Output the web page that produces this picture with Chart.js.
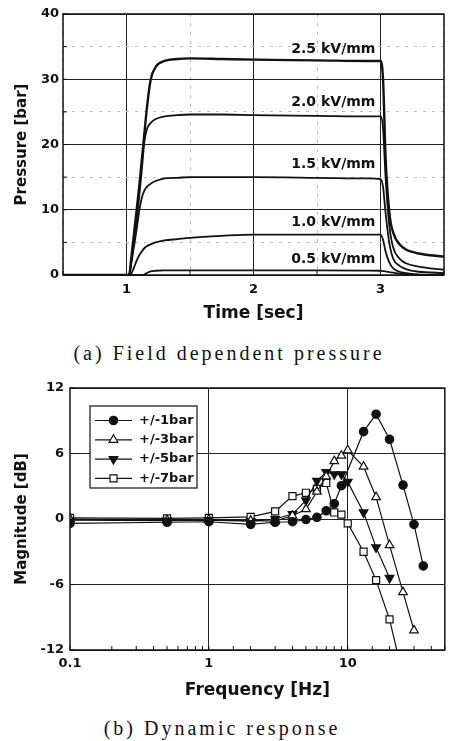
<!DOCTYPE html>
<html>
<head>
<meta charset="utf-8">
<script src="https://cdn.jsdelivr.net/npm/chart.js@4.4.0/dist/chart.umd.min.js"></script>
<style>
  body { margin: 0; background: #fff; width: 451px; height: 741px; overflow: hidden; position: relative; }
  .box { position: absolute; left: 0; width: 451px; }
  #topBox { top: 0; height: 340px; }
  #botBox { top: 360px; height: 345px; }
  .cap { position: absolute; font-family: "Liberation Serif", serif; font-size: 20px; line-height: 20px;
         letter-spacing: 3px; white-space: nowrap; color: #111; transform: translateX(-50%); }
</style>
</head>
<body>
<div class="box" id="topBox"><canvas id="pressureChart"></canvas></div>
<div class="cap" style="left:229px; top:343px;">(a) Field dependent pressure</div>
<div class="box" id="botBox"><canvas id="responseChart"></canvas></div>
<div class="cap" style="left:222px; top:718px;">(b) Dynamic response</div>

<script>
// ---- (a) pressure vs time ----
const timeSec = [0.5, 1.0, 1.02, 1.04, 1.06, 1.08, 1.10, 1.12, 1.14, 1.16, 1.19, 1.23, 1.3, 1.4,
                 1.5, 1.75, 2.0, 2.5, 2.9, 3.0, 3.02, 3.04, 3.07, 3.1, 3.15, 3.2, 3.3, 3.5];
const p05 = [0, 0, 0, 0, 0, 0, 0, 0, 0.05, 0.3, 0.55, 0.65, 0.7, 0.7,
             0.7, 0.7, 0.7, 0.7, 0.68, 0.65, 0.6, 0.55, 0.45, 0.35, 0.2, 0.1, 0, 0];
const p10 = [0, 0, 0, 0.3, 1.2, 2.2, 3.0, 3.6, 4.1, 4.4, 4.7, 5.0, 5.3, 5.5,
             5.7, 6.0, 6.2, 6.2, 6.2, 6.2, 5.4, 3.6, 1.9, 1.0, 0.5, 0.3, 0.1, 0];
const p15 = [0, 0, 0, 2, 4.5, 7, 9.8, 11.8, 12.9, 13.5, 14, 14.4, 14.8, 14.9,
             15, 15, 15, 14.9, 14.8, 14.7, 13.5, 9.5, 4.8, 2.5, 1.4, 0.9, 0.5, 0.3];
const p20 = [0, 0, 0, 2.5, 5.5, 8.5, 12, 16, 20.3, 22.3, 23.3, 23.9, 24.3, 24.5,
             24.6, 24.6, 24.5, 24.4, 24.3, 24.3, 22.5, 15, 7.5, 4.2, 2.5, 1.8, 1.3, 0.8];
const p25 = [0, 0, 0, 3, 6.5, 10, 13.5, 17.5, 21.5, 25.5, 29.9, 31.9, 32.8, 33.1,
             33.2, 33.1, 33.0, 32.9, 32.8, 32.8, 30, 18, 9.5, 6.5, 4.7, 3.9, 3.3, 2.8];
const fieldLabels = ['0.5 kV/mm', '1.0 kV/mm', '1.5 kV/mm', '2.0 kV/mm', '2.5 kV/mm'];
const labelLevel = [2.4, 8.0, 16.9, 26.5, 34.6];
const labelTime = 2.96;

// ---- (b) dynamic response ----
const f1 = [0.1, 0.5, 1, 2, 3, 4, 5, 6, 7, 8, 9, 13, 16, 20, 25, 30, 35];
const m1 = [-0.4, -0.3, -0.25, -0.5, -0.3, -0.25, -0.05, 0.15, 0.75, 1.4, 3.05, 8.0, 9.6, 7.3, 3.1, -0.5, -4.3];
const f3 = [0.1, 0.5, 1, 2, 3, 4, 5, 6, 7, 8, 9, 10, 13, 16, 20, 25, 30];
const m3 = [0, -0.1, -0.05, -0.15, -0.2, 0.3, 0.9, 2.5, 3.9, 5.3, 5.8, 6.3, 4.8, 2.0, -2.4, -6.7, -10.2];
const f5 = [0.1, 0.5, 1, 2, 3, 4, 5, 6, 7, 8, 9, 10, 13, 16, 20];
const m5 = [-0.1, -0.15, -0.1, -0.2, 0, 0.45, 1.7, 3.5, 4.3, 4.1, 4.1, 3.4, 0.6, -2.6, -5.4];
const f7 = [0.1, 0.5, 1, 2, 3, 4, 5, 6, 7, 8, 9, 10, 13, 16, 20, 25];
const m7 = [0.1, 0.05, 0.1, 0.2, 0.7, 2.1, 2.4, 2.75, 3.3, 0.6, 0.4, -0.4, -3.0, -5.6, -9.2, -14.4];
const ampLabels = ['+/-1bar', '+/-3bar', '+/-5bar', '+/-7bar'];

const ink = '#111';
const boldFont = (size) => ({ family: '"DejaVu Sans", sans-serif', weight: 'bold', size: size });
const zip = (xs, ys) => xs.map((x, i) => ({ x: x, y: ys[i] }));

// frame round the plot + short inward ticks
const framePlugin = {
  id: 'frame',
  afterDatasetsDraw(chart) {
    const { ctx, chartArea: a, scales } = chart;
    ctx.save();
    ctx.strokeStyle = ink;
    ctx.lineWidth = 1;
    ctx.beginPath();
    scales.x.ticks.forEach(t => {
      const px = scales.x.getPixelForValue(t.value);
      ctx.moveTo(px, a.bottom); ctx.lineTo(px, a.bottom - 4);
    });
    scales.y.ticks.forEach(t => {
      const py = scales.y.getPixelForValue(t.value);
      ctx.moveTo(a.left, py); ctx.lineTo(a.left + 4, py);
    });
    ctx.stroke();
    ctx.lineWidth = 1.5;
    ctx.strokeRect(a.left, a.top, a.right - a.left, a.bottom - a.top);
    ctx.restore();
  }
};

const fieldLabelPlugin = {
  id: 'fieldLabels',
  afterDatasetsDraw(chart) {
    const { ctx, scales: { x, y } } = chart;
    ctx.save();
    ctx.font = 'bold 14px "DejaVu Sans", sans-serif';
    ctx.fillStyle = ink;
    ctx.textAlign = 'right';
    ctx.textBaseline = 'middle';
    fieldLabels.forEach((txt, i) => ctx.fillText(txt, x.getPixelForValue(labelTime), y.getPixelForValue(labelLevel[i])));
    ctx.restore();
  }
};

const boxLegendPlugin = {
  id: 'boxLegend',
  afterDraw(chart) {
    const { ctx, chartArea: a } = chart;
    const left = a.left + 20, top = a.top + 18, w = 107, h = 82;
    ctx.save();
    ctx.fillStyle = '#fff';
    ctx.fillRect(left, top, w, h);
    ctx.strokeStyle = ink;
    ctx.lineWidth = 1.2;
    ctx.strokeRect(left, top, w, h);
    ctx.font = 'bold 13px "DejaVu Sans", sans-serif';
    ctx.textBaseline = 'middle';
    chart.data.datasets.forEach((ds, i) => {
      const yy = top + 14.5 + i * 19.3;
      ctx.strokeStyle = ink;
      ctx.lineWidth = 1.2;
      ctx.beginPath(); ctx.moveTo(left + 5, yy); ctx.lineTo(left + 42, yy); ctx.stroke();
      ctx.fillStyle = ds.pointBackgroundColor;
      Chart.helpers.drawPoint(ctx, { pointStyle: ds.pointStyle, radius: ds.pointRadius,
        rotation: ds.pointRotation || 0, borderWidth: 1.2 }, left + 23.5, yy);
      ctx.fillStyle = ink;
      ctx.fillText(ds.label, left + 49, yy);
    });
    ctx.restore();
  }
};

const pressureCtx = document.getElementById('pressureChart');
const pressureSeries = [p05, p10, p15, p20, p25];
new Chart(pressureCtx, {
  type: 'line',
  data: {
    datasets: pressureSeries.map((s, i) => ({
      label: fieldLabels[i],
      data: zip(timeSec, s),
      borderColor: ink,
      borderWidth: i === 4 ? 2.4 : 1.8,
      pointRadius: 0,
      cubicInterpolationMode: 'monotone',
      fill: false
    }))
  },
  options: {
    responsive: true,
    maintainAspectRatio: false,
    animation: false,
    layout: { padding: { top: 14, right: 1, left: 0, bottom: 0 } },
    plugins: { legend: { display: false }, tooltip: { enabled: false } },
    scales: {
      x: {
        type: 'linear', min: 0.5, max: 3.5,
        ticks: { stepSize: 0.5, autoSkip: false, maxRotation: 0, padding: 7, color: ink, font: boldFont(13),
                 callback: v => Number.isInteger(v) ? v : '' },
        grid: { drawTicks: false, color: c => Number.isInteger(c.tick && c.tick.value) ? '#222' : '#bdbdbd' },
        border: { display: false, dash: c => (c.tick && !Number.isInteger(c.tick.value)) ? [3, 6] : [] },
        title: { display: true, text: 'Time [sec]', color: ink, font: boldFont(17), padding: { top: 0, bottom: 16 } },
        afterFit: s => { s.height = 65; }
      },
      y: {
        min: 0, max: 40,
        ticks: { stepSize: 5, padding: 4, color: ink, font: boldFont(13),
                 callback: v => v % 10 === 0 ? v : '' },
        grid: { drawTicks: false, color: c => (c.tick && c.tick.value % 10 === 0) ? '#222' : '#bdbdbd' },
        border: { display: false, dash: c => (c.tick && c.tick.value % 10 !== 0) ? [3, 6] : [] },
        title: { display: true, text: 'Pressure [bar]', color: ink, font: boldFont(15), padding: { top: 13, bottom: 0 } },
        afterFit: s => { s.width = 63; }
      }
    }
  },
  plugins: [framePlugin, fieldLabelPlugin]
});

const responseCtx = document.getElementById('responseChart');
const freqs = [f1, f3, f5, f7];
const mags = [m1, m3, m5, m7];
const markerStyle = [
  { pointStyle: 'circle', pointRadius: 4.2, pointRotation: 0, pointBackgroundColor: ink },
  { pointStyle: 'triangle', pointRadius: 5, pointRotation: 0, pointBackgroundColor: '#fff' },
  { pointStyle: 'triangle', pointRadius: 5, pointRotation: 180, pointBackgroundColor: ink },
  { pointStyle: 'rect', pointRadius: 5, pointRotation: 0, pointBackgroundColor: '#fff' }
];
new Chart(responseCtx, {
  type: 'line',
  data: {
    datasets: ampLabels.map((lab, i) => Object.assign({
      label: lab,
      data: zip(freqs[i], mags[i]),
      borderColor: ink,
      borderWidth: 1.2,
      pointBorderColor: ink,
      pointBorderWidth: 1.2,
      tension: 0,
      fill: false
    }, markerStyle[i]))
  },
  options: {
    responsive: true,
    maintainAspectRatio: false,
    animation: false,
    layout: { padding: { top: 28, right: 4, left: 0, bottom: 0 } },
    plugins: { legend: { display: false }, tooltip: { enabled: false } },
    scales: {
      x: {
        type: 'logarithmic', min: 0.1, max: 50,
        ticks: { autoSkip: false, maxRotation: 0, padding: 6, color: ink, font: boldFont(13),
                 callback: v => {
                   const lg = Math.log10(v);
                   return Math.abs(lg - Math.round(lg)) < 1e-6 ? String(Math.pow(10, Math.round(lg))) : '';
                 } },
        grid: { drawTicks: false, color: c => {
                  const v = c.tick && c.tick.value;
                  return (Math.abs(v - 1) < 1e-6 || Math.abs(v - 10) < 1e-6) ? '#222' : 'rgba(0,0,0,0)';
                } },
        border: { display: false },
        title: { display: true, text: 'Frequency [Hz]', color: ink, font: boldFont(17), padding: { top: 0, bottom: 4 } },
        afterFit: s => { s.height = 55; }
      },
      y: {
        min: -12, max: 12,
        ticks: { stepSize: 6, padding: 6, color: ink, font: boldFont(13) },
        grid: { drawTicks: false, color: '#222' },
        border: { display: false },
        title: { display: true, text: 'Magnitude [dB]', color: ink, font: boldFont(15), padding: { top: 13, bottom: 0 } },
        afterFit: s => { s.width = 70; }
      }
    }
  },
  plugins: [framePlugin, boxLegendPlugin]
});
</script>
</body>
</html>
